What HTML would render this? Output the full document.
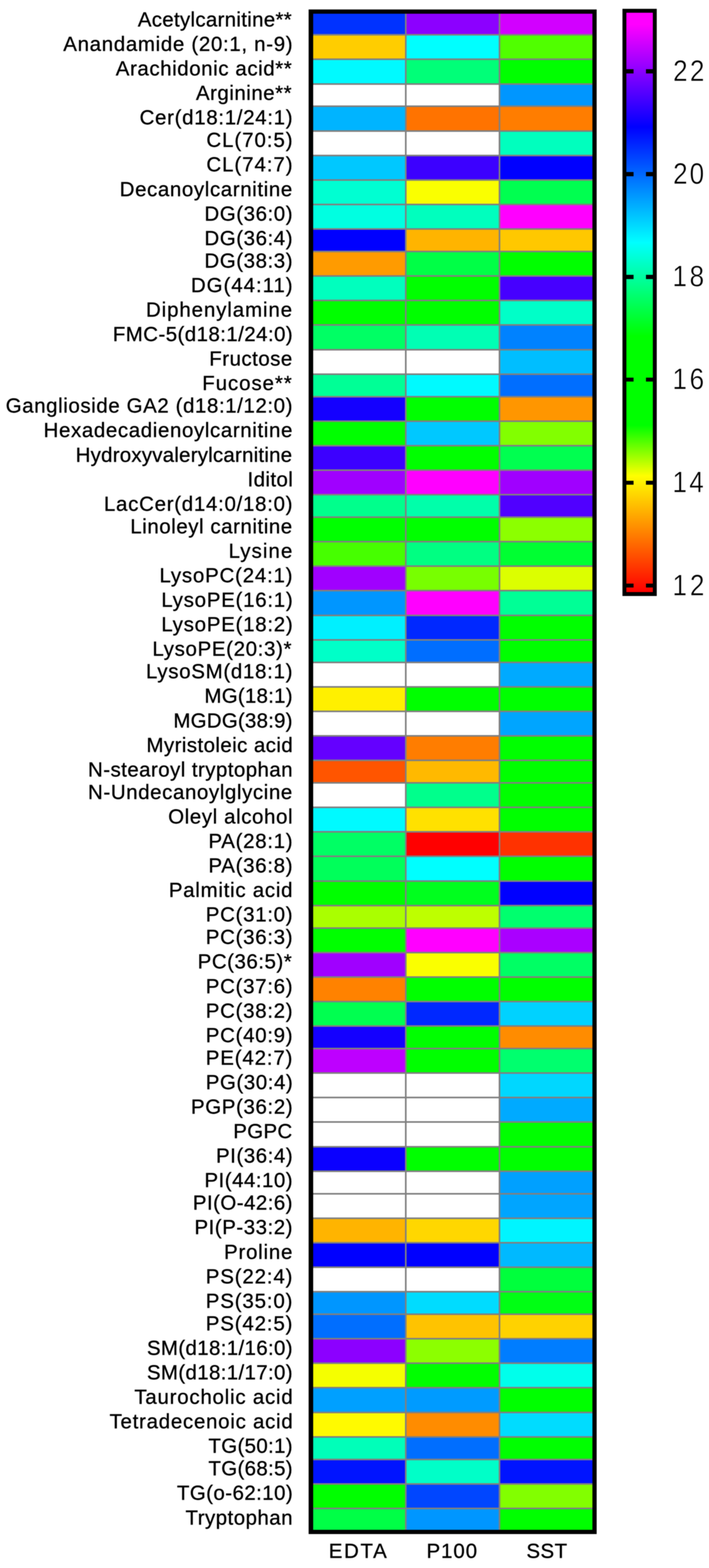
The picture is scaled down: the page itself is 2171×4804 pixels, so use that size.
<!DOCTYPE html>
<html lang="en"><head><meta charset="utf-8"><title>Heatmap</title>
<style>
html,body{margin:0;padding:0;background:#fff}
body{width:2171px;height:4804px;position:relative;font-family:"Liberation Sans",Arial,sans-serif;color:#000}
.a{position:absolute}
.l{position:absolute;white-space:nowrap;font-size:62.6px;line-height:62.6px;height:62.6px;left:0;transform-origin:0 0}
.c{position:absolute}
.t{position:absolute;white-space:nowrap;font-size:91px;line-height:91px;height:91px}
.x{position:absolute;white-space:nowrap;font-size:62.6px;line-height:62.6px;height:62.6px}
.k{position:absolute;background:#000;height:12.5px}
#w{position:absolute;left:0;top:0;width:2171px;height:4804px;overflow:hidden;background:#fff;filter:blur(1px)}
.l,.x{-webkit-text-stroke:0.9px #000}
.t{transform:scaleX(0.88);transform-origin:0 0;-webkit-text-stroke:1.2px #fff}
</style></head><body><div id="w">
<div class="a" id="hm" style="left:944.7px;top:28.5px;width:882.66px;height:4671.15px;background:#000">
<div class="a" style="left:14.5px;top:13.1px;width:854.66px;height:4645.55px;background:#808080"></div>
<div class="c" style="left:14.5px;top:13.1px;width:280.35px;height:62.67px;background:#0032ff"></div>
<div class="c" style="left:299.85px;top:13.1px;width:282.96px;height:62.67px;background:#8c00ff"></div>
<div class="c" style="left:587.81px;top:13.1px;width:281.35px;height:62.67px;background:#d200ff"></div>
<div class="c" style="left:14.5px;top:80.77px;width:280.35px;height:70.14px;background:#ffcd00"></div>
<div class="c" style="left:299.85px;top:80.77px;width:282.96px;height:70.14px;background:#00ffff"></div>
<div class="c" style="left:587.81px;top:80.77px;width:281.35px;height:70.14px;background:#50ff00"></div>
<div class="c" style="left:14.5px;top:155.91px;width:280.35px;height:70.14px;background:#00faff"></div>
<div class="c" style="left:299.85px;top:155.91px;width:282.96px;height:70.14px;background:#00ff78"></div>
<div class="c" style="left:587.81px;top:155.91px;width:281.35px;height:70.14px;background:#00ff00"></div>
<div class="c" style="left:14.5px;top:231.05px;width:280.35px;height:63.88px;background:#ffffff"></div>
<div class="c" style="left:299.85px;top:231.05px;width:282.96px;height:63.88px;background:#ffffff"></div>
<div class="c" style="left:587.81px;top:231.05px;width:281.35px;height:63.88px;background:#0096ff"></div>
<div class="c" style="left:14.5px;top:299.93px;width:280.35px;height:70.14px;background:#00b4ff"></div>
<div class="c" style="left:299.85px;top:299.93px;width:282.96px;height:70.14px;background:#ff7300"></div>
<div class="c" style="left:587.81px;top:299.93px;width:281.35px;height:70.14px;background:#ff7d00"></div>
<div class="c" style="left:14.5px;top:375.07px;width:280.35px;height:70.14px;background:#ffffff"></div>
<div class="c" style="left:299.85px;top:375.07px;width:282.96px;height:70.14px;background:#ffffff"></div>
<div class="c" style="left:587.81px;top:375.07px;width:281.35px;height:70.14px;background:#00ffbe"></div>
<div class="c" style="left:14.5px;top:450.2px;width:280.35px;height:70.14px;background:#00c8ff"></div>
<div class="c" style="left:299.85px;top:450.2px;width:282.96px;height:70.14px;background:#3c00ff"></div>
<div class="c" style="left:587.81px;top:450.2px;width:281.35px;height:70.14px;background:#0000ff"></div>
<div class="c" style="left:14.5px;top:525.34px;width:280.35px;height:70.14px;background:#00ffd2"></div>
<div class="c" style="left:299.85px;top:525.34px;width:282.96px;height:70.14px;background:#faff00"></div>
<div class="c" style="left:587.81px;top:525.34px;width:281.35px;height:70.14px;background:#00ff50"></div>
<div class="c" style="left:14.5px;top:600.48px;width:280.35px;height:70.14px;background:#00ffe1"></div>
<div class="c" style="left:299.85px;top:600.48px;width:282.96px;height:70.14px;background:#00ffbe"></div>
<div class="c" style="left:587.81px;top:600.48px;width:281.35px;height:70.14px;background:#ff00ff"></div>
<div class="c" style="left:14.5px;top:675.62px;width:280.35px;height:63.88px;background:#0000ff"></div>
<div class="c" style="left:299.85px;top:675.62px;width:282.96px;height:63.88px;background:#ffb400"></div>
<div class="c" style="left:587.81px;top:675.62px;width:281.35px;height:63.88px;background:#ffc800"></div>
<div class="c" style="left:14.5px;top:744.5px;width:280.35px;height:70.14px;background:#ff9b00"></div>
<div class="c" style="left:299.85px;top:744.5px;width:282.96px;height:70.14px;background:#00ff46"></div>
<div class="c" style="left:587.81px;top:744.5px;width:281.35px;height:70.14px;background:#00ff00"></div>
<div class="c" style="left:14.5px;top:819.64px;width:280.35px;height:70.14px;background:#00ffbe"></div>
<div class="c" style="left:299.85px;top:819.64px;width:282.96px;height:70.14px;background:#00ff00"></div>
<div class="c" style="left:587.81px;top:819.64px;width:281.35px;height:70.14px;background:#4600ff"></div>
<div class="c" style="left:14.5px;top:894.78px;width:280.35px;height:70.14px;background:#00ff00"></div>
<div class="c" style="left:299.85px;top:894.78px;width:282.96px;height:70.14px;background:#00ff00"></div>
<div class="c" style="left:587.81px;top:894.78px;width:281.35px;height:70.14px;background:#00ffc8"></div>
<div class="c" style="left:14.5px;top:969.92px;width:280.35px;height:70.14px;background:#00ff64"></div>
<div class="c" style="left:299.85px;top:969.92px;width:282.96px;height:70.14px;background:#00ffb4"></div>
<div class="c" style="left:587.81px;top:969.92px;width:281.35px;height:70.14px;background:#0082ff"></div>
<div class="c" style="left:14.5px;top:1045.06px;width:280.35px;height:70.14px;background:#ffffff"></div>
<div class="c" style="left:299.85px;top:1045.06px;width:282.96px;height:70.14px;background:#ffffff"></div>
<div class="c" style="left:587.81px;top:1045.06px;width:281.35px;height:70.14px;background:#00beff"></div>
<div class="c" style="left:14.5px;top:1120.2px;width:280.35px;height:63.88px;background:#00ff96"></div>
<div class="c" style="left:299.85px;top:1120.2px;width:282.96px;height:63.88px;background:#00faff"></div>
<div class="c" style="left:587.81px;top:1120.2px;width:281.35px;height:63.88px;background:#006eff"></div>
<div class="c" style="left:14.5px;top:1189.07px;width:280.35px;height:70.14px;background:#1400ff"></div>
<div class="c" style="left:299.85px;top:1189.07px;width:282.96px;height:70.14px;background:#00ff00"></div>
<div class="c" style="left:587.81px;top:1189.07px;width:281.35px;height:70.14px;background:#ff9600"></div>
<div class="c" style="left:14.5px;top:1264.21px;width:280.35px;height:70.14px;background:#00ff00"></div>
<div class="c" style="left:299.85px;top:1264.21px;width:282.96px;height:70.14px;background:#00c8ff"></div>
<div class="c" style="left:587.81px;top:1264.21px;width:281.35px;height:70.14px;background:#82ff00"></div>
<div class="c" style="left:14.5px;top:1339.35px;width:280.35px;height:70.14px;background:#3c00ff"></div>
<div class="c" style="left:299.85px;top:1339.35px;width:282.96px;height:70.14px;background:#00ff00"></div>
<div class="c" style="left:587.81px;top:1339.35px;width:281.35px;height:70.14px;background:#00ff50"></div>
<div class="c" style="left:14.5px;top:1414.49px;width:280.35px;height:70.14px;background:#a000ff"></div>
<div class="c" style="left:299.85px;top:1414.49px;width:282.96px;height:70.14px;background:#ff00ff"></div>
<div class="c" style="left:587.81px;top:1414.49px;width:281.35px;height:70.14px;background:#a000ff"></div>
<div class="c" style="left:14.5px;top:1489.63px;width:280.35px;height:63.88px;background:#00ff8c"></div>
<div class="c" style="left:299.85px;top:1489.63px;width:282.96px;height:63.88px;background:#00ffaa"></div>
<div class="c" style="left:587.81px;top:1489.63px;width:281.35px;height:63.88px;background:#5000ff"></div>
<div class="c" style="left:14.5px;top:1558.51px;width:280.35px;height:70.14px;background:#00ff00"></div>
<div class="c" style="left:299.85px;top:1558.51px;width:282.96px;height:70.14px;background:#00ff00"></div>
<div class="c" style="left:587.81px;top:1558.51px;width:281.35px;height:70.14px;background:#8cff00"></div>
<div class="c" style="left:14.5px;top:1633.65px;width:280.35px;height:70.14px;background:#46ff00"></div>
<div class="c" style="left:299.85px;top:1633.65px;width:282.96px;height:70.14px;background:#00ff82"></div>
<div class="c" style="left:587.81px;top:1633.65px;width:281.35px;height:70.14px;background:#00ff32"></div>
<div class="c" style="left:14.5px;top:1708.79px;width:280.35px;height:70.14px;background:#a000ff"></div>
<div class="c" style="left:299.85px;top:1708.79px;width:282.96px;height:70.14px;background:#78ff00"></div>
<div class="c" style="left:587.81px;top:1708.79px;width:281.35px;height:70.14px;background:#dcff00"></div>
<div class="c" style="left:14.5px;top:1783.93px;width:280.35px;height:70.14px;background:#0096ff"></div>
<div class="c" style="left:299.85px;top:1783.93px;width:282.96px;height:70.14px;background:#ff00ff"></div>
<div class="c" style="left:587.81px;top:1783.93px;width:281.35px;height:70.14px;background:#00ff96"></div>
<div class="c" style="left:14.5px;top:1859.06px;width:280.35px;height:70.14px;background:#00f0ff"></div>
<div class="c" style="left:299.85px;top:1859.06px;width:282.96px;height:70.14px;background:#0028ff"></div>
<div class="c" style="left:587.81px;top:1859.06px;width:281.35px;height:70.14px;background:#00ff00"></div>
<div class="c" style="left:14.5px;top:1934.2px;width:280.35px;height:63.88px;background:#00ffc8"></div>
<div class="c" style="left:299.85px;top:1934.2px;width:282.96px;height:63.88px;background:#006eff"></div>
<div class="c" style="left:587.81px;top:1934.2px;width:281.35px;height:63.88px;background:#00ff00"></div>
<div class="c" style="left:14.5px;top:2003.08px;width:280.35px;height:70.14px;background:#ffffff"></div>
<div class="c" style="left:299.85px;top:2003.08px;width:282.96px;height:70.14px;background:#ffffff"></div>
<div class="c" style="left:587.81px;top:2003.08px;width:281.35px;height:70.14px;background:#00aaff"></div>
<div class="c" style="left:14.5px;top:2078.22px;width:280.35px;height:70.14px;background:#fff000"></div>
<div class="c" style="left:299.85px;top:2078.22px;width:282.96px;height:70.14px;background:#00ff00"></div>
<div class="c" style="left:587.81px;top:2078.22px;width:281.35px;height:70.14px;background:#00ff00"></div>
<div class="c" style="left:14.5px;top:2153.36px;width:280.35px;height:70.14px;background:#ffffff"></div>
<div class="c" style="left:299.85px;top:2153.36px;width:282.96px;height:70.14px;background:#ffffff"></div>
<div class="c" style="left:587.81px;top:2153.36px;width:281.35px;height:70.14px;background:#00a5ff"></div>
<div class="c" style="left:14.5px;top:2228.5px;width:280.35px;height:70.14px;background:#6400ff"></div>
<div class="c" style="left:299.85px;top:2228.5px;width:282.96px;height:70.14px;background:#ff7d00"></div>
<div class="c" style="left:587.81px;top:2228.5px;width:281.35px;height:70.14px;background:#00ff00"></div>
<div class="c" style="left:14.5px;top:2303.64px;width:280.35px;height:63.88px;background:#ff5500"></div>
<div class="c" style="left:299.85px;top:2303.64px;width:282.96px;height:63.88px;background:#ffb900"></div>
<div class="c" style="left:587.81px;top:2303.64px;width:281.35px;height:63.88px;background:#00ff00"></div>
<div class="c" style="left:14.5px;top:2372.52px;width:280.35px;height:70.14px;background:#ffffff"></div>
<div class="c" style="left:299.85px;top:2372.52px;width:282.96px;height:70.14px;background:#00ff8c"></div>
<div class="c" style="left:587.81px;top:2372.52px;width:281.35px;height:70.14px;background:#00ff00"></div>
<div class="c" style="left:14.5px;top:2447.65px;width:280.35px;height:70.14px;background:#00faff"></div>
<div class="c" style="left:299.85px;top:2447.65px;width:282.96px;height:70.14px;background:#ffe100"></div>
<div class="c" style="left:587.81px;top:2447.65px;width:281.35px;height:70.14px;background:#00ff00"></div>
<div class="c" style="left:14.5px;top:2522.79px;width:280.35px;height:70.14px;background:#00ff64"></div>
<div class="c" style="left:299.85px;top:2522.79px;width:282.96px;height:70.14px;background:#ff0000"></div>
<div class="c" style="left:587.81px;top:2522.79px;width:281.35px;height:70.14px;background:#ff3200"></div>
<div class="c" style="left:14.5px;top:2597.93px;width:280.35px;height:70.14px;background:#00ff5a"></div>
<div class="c" style="left:299.85px;top:2597.93px;width:282.96px;height:70.14px;background:#00ffff"></div>
<div class="c" style="left:587.81px;top:2597.93px;width:281.35px;height:70.14px;background:#00ff00"></div>
<div class="c" style="left:14.5px;top:2673.07px;width:280.35px;height:70.14px;background:#00ff00"></div>
<div class="c" style="left:299.85px;top:2673.07px;width:282.96px;height:70.14px;background:#00ff1e"></div>
<div class="c" style="left:587.81px;top:2673.07px;width:281.35px;height:70.14px;background:#0000ff"></div>
<div class="c" style="left:14.5px;top:2748.21px;width:280.35px;height:63.88px;background:#aaff00"></div>
<div class="c" style="left:299.85px;top:2748.21px;width:282.96px;height:63.88px;background:#beff00"></div>
<div class="c" style="left:587.81px;top:2748.21px;width:281.35px;height:63.88px;background:#00ff6e"></div>
<div class="c" style="left:14.5px;top:2817.09px;width:280.35px;height:70.14px;background:#00ff00"></div>
<div class="c" style="left:299.85px;top:2817.09px;width:282.96px;height:70.14px;background:#ff00ff"></div>
<div class="c" style="left:587.81px;top:2817.09px;width:281.35px;height:70.14px;background:#aa00ff"></div>
<div class="c" style="left:14.5px;top:2892.23px;width:280.35px;height:70.14px;background:#a000ff"></div>
<div class="c" style="left:299.85px;top:2892.23px;width:282.96px;height:70.14px;background:#faff00"></div>
<div class="c" style="left:587.81px;top:2892.23px;width:281.35px;height:70.14px;background:#00ff64"></div>
<div class="c" style="left:14.5px;top:2967.37px;width:280.35px;height:70.14px;background:#ff8200"></div>
<div class="c" style="left:299.85px;top:2967.37px;width:282.96px;height:70.14px;background:#00ff00"></div>
<div class="c" style="left:587.81px;top:2967.37px;width:281.35px;height:70.14px;background:#00ff00"></div>
<div class="c" style="left:14.5px;top:3042.51px;width:280.35px;height:70.14px;background:#00ff50"></div>
<div class="c" style="left:299.85px;top:3042.51px;width:282.96px;height:70.14px;background:#0028ff"></div>
<div class="c" style="left:587.81px;top:3042.51px;width:281.35px;height:70.14px;background:#00d2ff"></div>
<div class="c" style="left:14.5px;top:3117.65px;width:280.35px;height:63.88px;background:#1400ff"></div>
<div class="c" style="left:299.85px;top:3117.65px;width:282.96px;height:63.88px;background:#00ff00"></div>
<div class="c" style="left:587.81px;top:3117.65px;width:281.35px;height:63.88px;background:#ff8c00"></div>
<div class="c" style="left:14.5px;top:3186.52px;width:280.35px;height:70.14px;background:#be00ff"></div>
<div class="c" style="left:299.85px;top:3186.52px;width:282.96px;height:70.14px;background:#00ff00"></div>
<div class="c" style="left:587.81px;top:3186.52px;width:281.35px;height:70.14px;background:#00ff6e"></div>
<div class="c" style="left:14.5px;top:3261.66px;width:280.35px;height:70.14px;background:#ffffff"></div>
<div class="c" style="left:299.85px;top:3261.66px;width:282.96px;height:70.14px;background:#ffffff"></div>
<div class="c" style="left:587.81px;top:3261.66px;width:281.35px;height:70.14px;background:#00d7ff"></div>
<div class="c" style="left:14.5px;top:3336.8px;width:280.35px;height:70.14px;background:#ffffff"></div>
<div class="c" style="left:299.85px;top:3336.8px;width:282.96px;height:70.14px;background:#ffffff"></div>
<div class="c" style="left:587.81px;top:3336.8px;width:281.35px;height:70.14px;background:#00aaff"></div>
<div class="c" style="left:14.5px;top:3411.94px;width:280.35px;height:70.14px;background:#ffffff"></div>
<div class="c" style="left:299.85px;top:3411.94px;width:282.96px;height:70.14px;background:#ffffff"></div>
<div class="c" style="left:587.81px;top:3411.94px;width:281.35px;height:70.14px;background:#00ff00"></div>
<div class="c" style="left:14.5px;top:3487.08px;width:280.35px;height:70.14px;background:#0a00ff"></div>
<div class="c" style="left:299.85px;top:3487.08px;width:282.96px;height:70.14px;background:#00ff00"></div>
<div class="c" style="left:587.81px;top:3487.08px;width:281.35px;height:70.14px;background:#00ff00"></div>
<div class="c" style="left:14.5px;top:3562.22px;width:280.35px;height:63.88px;background:#ffffff"></div>
<div class="c" style="left:299.85px;top:3562.22px;width:282.96px;height:63.88px;background:#ffffff"></div>
<div class="c" style="left:587.81px;top:3562.22px;width:281.35px;height:63.88px;background:#00a0ff"></div>
<div class="c" style="left:14.5px;top:3631.1px;width:280.35px;height:70.14px;background:#ffffff"></div>
<div class="c" style="left:299.85px;top:3631.1px;width:282.96px;height:70.14px;background:#ffffff"></div>
<div class="c" style="left:587.81px;top:3631.1px;width:281.35px;height:70.14px;background:#00a5ff"></div>
<div class="c" style="left:14.5px;top:3706.24px;width:280.35px;height:70.14px;background:#ffb400"></div>
<div class="c" style="left:299.85px;top:3706.24px;width:282.96px;height:70.14px;background:#ffd700"></div>
<div class="c" style="left:587.81px;top:3706.24px;width:281.35px;height:70.14px;background:#00f5ff"></div>
<div class="c" style="left:14.5px;top:3781.38px;width:280.35px;height:70.14px;background:#0000ff"></div>
<div class="c" style="left:299.85px;top:3781.38px;width:282.96px;height:70.14px;background:#0000ff"></div>
<div class="c" style="left:587.81px;top:3781.38px;width:281.35px;height:70.14px;background:#00b9ff"></div>
<div class="c" style="left:14.5px;top:3856.51px;width:280.35px;height:70.14px;background:#ffffff"></div>
<div class="c" style="left:299.85px;top:3856.51px;width:282.96px;height:70.14px;background:#ffffff"></div>
<div class="c" style="left:587.81px;top:3856.51px;width:281.35px;height:70.14px;background:#00ff3c"></div>
<div class="c" style="left:14.5px;top:3931.65px;width:280.35px;height:63.88px;background:#0096ff"></div>
<div class="c" style="left:299.85px;top:3931.65px;width:282.96px;height:63.88px;background:#00dcff"></div>
<div class="c" style="left:587.81px;top:3931.65px;width:281.35px;height:63.88px;background:#00ff14"></div>
<div class="c" style="left:14.5px;top:4000.53px;width:280.35px;height:70.14px;background:#006eff"></div>
<div class="c" style="left:299.85px;top:4000.53px;width:282.96px;height:70.14px;background:#ffc300"></div>
<div class="c" style="left:587.81px;top:4000.53px;width:281.35px;height:70.14px;background:#ffd200"></div>
<div class="c" style="left:14.5px;top:4075.67px;width:280.35px;height:70.14px;background:#8c00ff"></div>
<div class="c" style="left:299.85px;top:4075.67px;width:282.96px;height:70.14px;background:#8cff00"></div>
<div class="c" style="left:587.81px;top:4075.67px;width:281.35px;height:70.14px;background:#007dff"></div>
<div class="c" style="left:14.5px;top:4150.81px;width:280.35px;height:70.14px;background:#f5ff00"></div>
<div class="c" style="left:299.85px;top:4150.81px;width:282.96px;height:70.14px;background:#00ff00"></div>
<div class="c" style="left:587.81px;top:4150.81px;width:281.35px;height:70.14px;background:#00ffeb"></div>
<div class="c" style="left:14.5px;top:4225.95px;width:280.35px;height:70.14px;background:#00a0ff"></div>
<div class="c" style="left:299.85px;top:4225.95px;width:282.96px;height:70.14px;background:#009bff"></div>
<div class="c" style="left:587.81px;top:4225.95px;width:281.35px;height:70.14px;background:#00ff00"></div>
<div class="c" style="left:14.5px;top:4301.09px;width:280.35px;height:70.14px;background:#fffa00"></div>
<div class="c" style="left:299.85px;top:4301.09px;width:282.96px;height:70.14px;background:#ff8c00"></div>
<div class="c" style="left:587.81px;top:4301.09px;width:281.35px;height:70.14px;background:#00dcff"></div>
<div class="c" style="left:14.5px;top:4376.23px;width:280.35px;height:63.88px;background:#00ffb9"></div>
<div class="c" style="left:299.85px;top:4376.23px;width:282.96px;height:63.88px;background:#006eff"></div>
<div class="c" style="left:587.81px;top:4376.23px;width:281.35px;height:63.88px;background:#00ff00"></div>
<div class="c" style="left:14.5px;top:4445.11px;width:280.35px;height:70.14px;background:#0014ff"></div>
<div class="c" style="left:299.85px;top:4445.11px;width:282.96px;height:70.14px;background:#00ffc8"></div>
<div class="c" style="left:587.81px;top:4445.11px;width:281.35px;height:70.14px;background:#0014ff"></div>
<div class="c" style="left:14.5px;top:4520.24px;width:280.35px;height:70.14px;background:#00ff00"></div>
<div class="c" style="left:299.85px;top:4520.24px;width:282.96px;height:70.14px;background:#0046ff"></div>
<div class="c" style="left:587.81px;top:4520.24px;width:281.35px;height:70.14px;background:#82ff00"></div>
<div class="c" style="left:14.5px;top:4595.38px;width:280.35px;height:63.27px;background:#00ff46"></div>
<div class="c" style="left:299.85px;top:4595.38px;width:282.96px;height:63.27px;background:#0096ff"></div>
<div class="c" style="left:587.81px;top:4595.38px;width:281.35px;height:63.27px;background:#00ff00"></div>
</div>
<div class="l" style="top:27.84px;left:422px;letter-spacing:0.96px">Acetylcarnitine**</div>
<div class="l" style="top:102.98px;left:193.8px;letter-spacing:2.12px">Anandamide (20:1, n-9)</div>
<div class="l" style="top:178.12px;left:354.6px;letter-spacing:1.81px">Arachidonic acid**</div>
<div class="l" style="top:253.26px;left:600px;letter-spacing:1.6px">Arginine**</div>
<div class="l" style="top:328.4px;left:427.5px;letter-spacing:2.14px">Cer(d18:1/24:1)</div>
<div class="l" style="top:397.27px;left:632px;letter-spacing:2.91px">CL(70:5)</div>
<div class="l" style="top:472.41px;left:632px;letter-spacing:2.91px">CL(74:7)</div>
<div class="l" style="top:547.55px;left:366.5px;letter-spacing:1.93px">Decanoylcarnitine</div>
<div class="l" style="top:622.69px;left:626px;letter-spacing:1.77px">DG(36:0)</div>
<div class="l" style="top:697.83px;left:626px;letter-spacing:1.77px">DG(36:4)</div>
<div class="l" style="top:766.71px;left:626px;letter-spacing:1.77px">DG(38:3)</div>
<div class="l" style="top:841.85px;left:584.7px;letter-spacing:2.96px">DG(44:11)</div>
<div class="l" style="top:916.99px;left:447px;letter-spacing:2.78px">Diphenylamine</div>
<div class="l" style="top:992.13px;left:345.5px;letter-spacing:1.37px">FMC-5(d18:1/24:0)</div>
<div class="l" style="top:1067.27px;left:640.8px;letter-spacing:1.51px">Fructose</div>
<div class="l" style="top:1142.4px;left:619.3px;letter-spacing:2.87px">Fucose**</div>
<div class="l" style="top:1211.28px;left:17.5px;letter-spacing:1.85px">Ganglioside GA2 (d18:1/12:0)</div>
<div class="l" style="top:1286.42px;left:133.6px;letter-spacing:1.95px">Hexadecadienoylcarnitine</div>
<div class="l" style="top:1361.56px;left:231.7px;letter-spacing:0.71px">Hydroxyvalerylcarnitine</div>
<div class="l" style="top:1436.7px;left:758px;letter-spacing:1.28px">Iditol</div>
<div class="l" style="top:1511.84px;left:318.3px;letter-spacing:2.24px">LacCer(d14:0/18:0)</div>
<div class="l" style="top:1580.72px;left:399px;letter-spacing:1.73px">Linoleyl carnitine</div>
<div class="l" style="top:1655.86px;left:700px;letter-spacing:3.28px">Lysine</div>
<div class="l" style="top:1731px;left:488.2px;letter-spacing:2.47px">LysoPC(24:1)</div>
<div class="l" style="top:1806.13px;left:494px;letter-spacing:2.31px">LysoPE(16:1)</div>
<div class="l" style="top:1881.27px;left:494px;letter-spacing:2.31px">LysoPE(18:2)</div>
<div class="l" style="top:1956.41px;left:466.8px;letter-spacing:2.05px">LysoPE(20:3)*</div>
<div class="l" style="top:2025.29px;left:447px;letter-spacing:2.2px">LysoSM(d18:1)</div>
<div class="l" style="top:2100.43px;left:626px;letter-spacing:0.77px">MG(18:1)</div>
<div class="l" style="top:2175.57px;left:531px;letter-spacing:0.71px">MGDG(38:9)</div>
<div class="l" style="top:2250.71px;left:448.6px;letter-spacing:1.32px">Myristoleic acid</div>
<div class="l" style="top:2325.85px;left:269.6px;letter-spacing:1.39px">N-stearoyl tryptophan</div>
<div class="l" style="top:2394.72px;left:269.6px;letter-spacing:1.88px">N-Undecanoylglycine</div>
<div class="l" style="top:2469.86px;left:515px;letter-spacing:1.87px">Oleyl alcohol</div>
<div class="l" style="top:2545px;left:638.3px;letter-spacing:2.16px">PA(28:1)</div>
<div class="l" style="top:2620.14px;left:638.3px;letter-spacing:2.16px">PA(36:8)</div>
<div class="l" style="top:2695.28px;left:517px;letter-spacing:2.28px">Palmitic acid</div>
<div class="l" style="top:2770.42px;left:630px;letter-spacing:2.2px">PC(31:0)</div>
<div class="l" style="top:2839.3px;left:630px;letter-spacing:2.2px">PC(36:3)</div>
<div class="l" style="top:2914.44px;left:605.3px;letter-spacing:1.64px">PC(36:5)*</div>
<div class="l" style="top:2989.58px;left:630px;letter-spacing:2.2px">PC(37:6)</div>
<div class="l" style="top:3064.72px;left:630px;letter-spacing:2.2px">PC(38:2)</div>
<div class="l" style="top:3139.86px;left:630px;letter-spacing:2.2px">PC(40:9)</div>
<div class="l" style="top:3208.73px;left:630px;letter-spacing:2.63px">PE(42:7)</div>
<div class="l" style="top:3283.87px;left:630px;letter-spacing:1.77px">PG(30:4)</div>
<div class="l" style="top:3359.01px;left:584.7px;letter-spacing:1.96px">PGP(36:2)</div>
<div class="l" style="top:3434.15px;left:714.2px;letter-spacing:1.07px">PGPC</div>
<div class="l" style="top:3509.29px;left:661.4px;letter-spacing:1.71px">PI(36:4)</div>
<div class="l" style="top:3584.43px;left:626px;letter-spacing:1.55px">PI(44:10)</div>
<div class="l" style="top:3653.31px;left:590.5px;letter-spacing:1.43px">PI(O-42:6)</div>
<div class="l" style="top:3728.45px;left:595.4px;letter-spacing:1.67px">PI(P-33:2)</div>
<div class="l" style="top:3803.58px;left:686px;letter-spacing:2.4px">Proline</div>
<div class="l" style="top:3878.72px;left:630px;letter-spacing:2.63px">PS(22:4)</div>
<div class="l" style="top:3953.86px;left:630px;letter-spacing:2.63px">PS(35:0)</div>
<div class="l" style="top:4022.74px;left:630px;letter-spacing:2.63px">PS(42:5)</div>
<div class="l" style="top:4097.88px;left:450px;letter-spacing:1.11px">SM(d18:1/16:0)</div>
<div class="l" style="top:4173.02px;left:450px;letter-spacing:1.11px">SM(d18:1/17:0)</div>
<div class="l" style="top:4248.16px;left:411.4px;letter-spacing:2.4px">Taurocholic acid</div>
<div class="l" style="top:4323.3px;left:335.5px;letter-spacing:2.29px">Tetradecenoic acid</div>
<div class="l" style="top:4398.44px;left:638.2px;letter-spacing:1.03px">TG(50:1)</div>
<div class="l" style="top:4467.31px;left:638.2px;letter-spacing:1.03px">TG(68:5)</div>
<div class="l" style="top:4542.45px;left:541.7px;letter-spacing:1.37px">TG(o-62:10)</div>
<div class="l" style="top:4617.59px;left:568px;letter-spacing:1.49px">Tryptophan</div>
<div class="x" style="top:4719.7px;left:1006.7px;letter-spacing:5.07px">EDTA</div>
<div class="x" style="top:4719.7px;left:1305.9px;letter-spacing:2.93px">P100</div>
<div class="x" style="top:4719.7px;left:1611.9px;letter-spacing:1.45px">SST</div>
<div class="a" style="left:1905.6px;top:27.3px;width:105.4px;height:1798.7px;background:#000"></div>
<div class="a" style="left:1917.8px;top:39px;width:81.7px;height:1774.8px;background:linear-gradient(to bottom,#ff00ff 0px,#ff00ff 36px,#0000ff 350px,#00ffff 704px,#00ff00 991px,#00ff00 1264px,#ffff00 1419px,#ff0000 1774.8px)"></div>
<div class="k" style="left:1916.8px;top:212.05px;width:23.7px"></div>
<div class="k" style="left:1978px;top:212.05px;width:22.5px"></div>
<div class="t" style="left:2060.5px;top:170.8px;letter-spacing:7.96px">22</div>
<div class="k" style="left:1916.8px;top:527.45px;width:23.7px"></div>
<div class="k" style="left:1978px;top:527.45px;width:22.5px"></div>
<div class="t" style="left:2060.5px;top:485.7px;letter-spacing:6.82px">20</div>
<div class="k" style="left:1916.8px;top:842.25px;width:23.7px"></div>
<div class="k" style="left:1978px;top:842.25px;width:22.5px"></div>
<div class="t" style="left:2058.5px;top:800px;letter-spacing:9.09px">18</div>
<div class="k" style="left:1916.8px;top:1156.95px;width:23.7px"></div>
<div class="k" style="left:1978px;top:1156.95px;width:22.5px"></div>
<div class="t" style="left:2058.5px;top:1115.2px;letter-spacing:9.09px">16</div>
<div class="k" style="left:1916.8px;top:1472.55px;width:23.7px"></div>
<div class="k" style="left:1978px;top:1472.55px;width:22.5px"></div>
<div class="t" style="left:2058.5px;top:1430.8px;letter-spacing:7.96px">14</div>
<div class="k" style="left:1916.8px;top:1787.75px;width:23.7px"></div>
<div class="k" style="left:1978px;top:1787.75px;width:22.5px"></div>
<div class="t" style="left:2058.5px;top:1746.5px;letter-spacing:10.23px">12</div>
</div></body></html>
